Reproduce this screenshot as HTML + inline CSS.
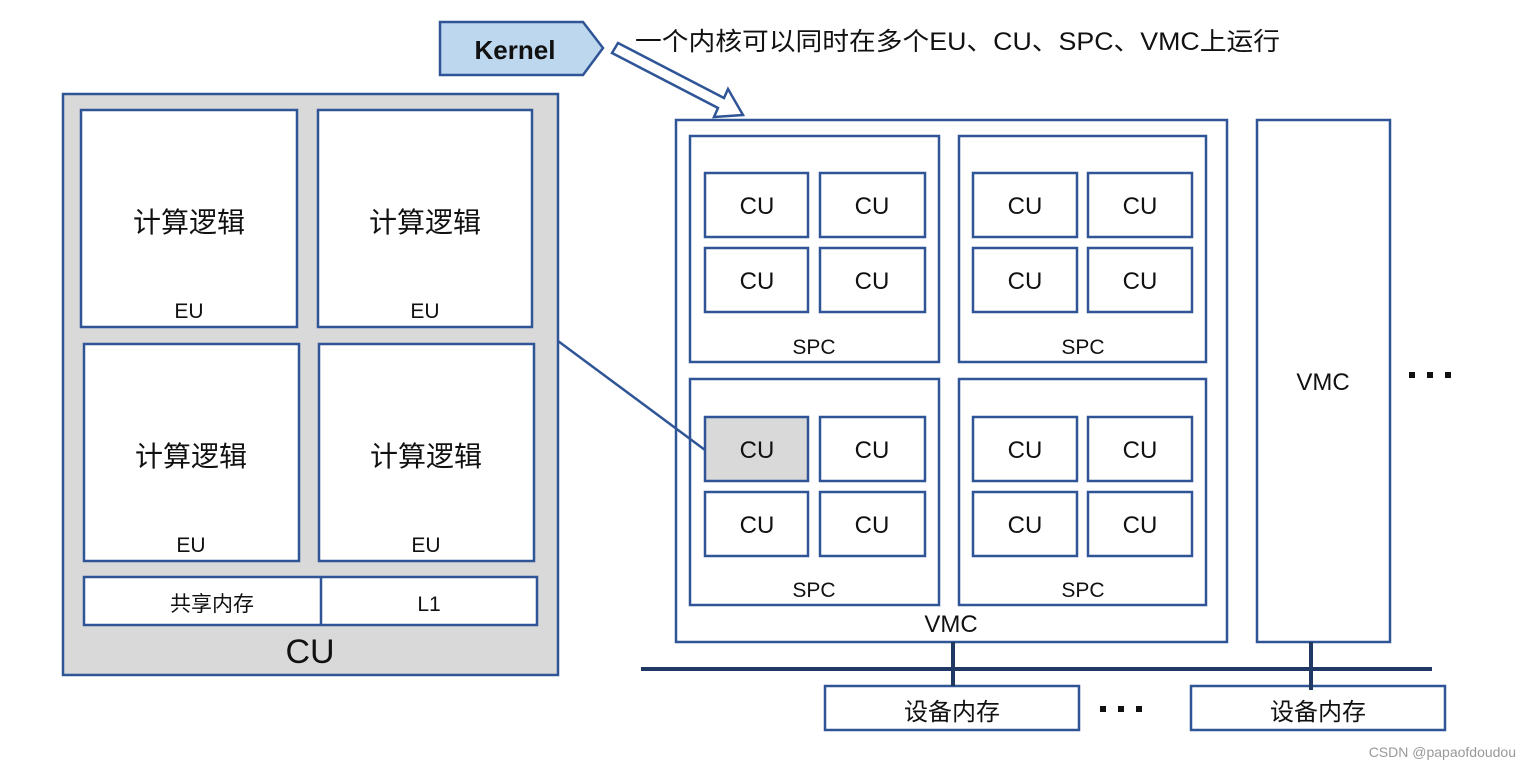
<!DOCTYPE html>
<html><head><meta charset="utf-8"><style>
html,body{margin:0;padding:0;background:#fff;}
svg{display:block}
text{font-family:"Liberation Sans","Noto Sans CJK SC",sans-serif;fill:#111;}
</style></head><body>
<svg width="1530" height="771" viewBox="0 0 1530 771" xmlns="http://www.w3.org/2000/svg">
<g stroke="#2f5597" stroke-width="2.5" fill="#fff">
<rect x="63" y="94" width="495" height="581" fill="#d9d9d9"/>
<rect x="81" y="110" width="216" height="217"/>
<rect x="318" y="110" width="214" height="217"/>
<rect x="84" y="344" width="215" height="217"/>
<rect x="319" y="344" width="215" height="217"/>
<rect x="84" y="577" width="453" height="48"/>
<line x1="321" y1="577" x2="321" y2="625"/>
<rect x="676" y="120" width="551" height="522"/>
<rect x="690" y="136" width="249" height="226"/>
<rect x="959" y="136" width="247" height="226"/>
<rect x="690" y="379" width="249" height="226"/>
<rect x="959" y="379" width="247" height="226"/>
<rect x="705" y="173" width="103" height="64"/>
<rect x="820" y="173" width="105" height="64"/>
<rect x="705" y="248" width="103" height="64"/>
<rect x="820" y="248" width="105" height="64"/>
<rect x="973" y="173" width="104" height="64"/>
<rect x="1088" y="173" width="104" height="64"/>
<rect x="973" y="248" width="104" height="64"/>
<rect x="1088" y="248" width="104" height="64"/>
<rect x="705" y="417" width="103" height="64" fill="#d9d9d9"/>
<rect x="820" y="417" width="105" height="64"/>
<rect x="705" y="492" width="103" height="64"/>
<rect x="820" y="492" width="105" height="64"/>
<rect x="973" y="417" width="104" height="64"/>
<rect x="1088" y="417" width="104" height="64"/>
<rect x="973" y="492" width="104" height="64"/>
<rect x="1088" y="492" width="104" height="64"/>
<rect x="1257" y="120" width="133" height="522"/>
<rect x="825" y="686" width="254" height="44"/>
<rect x="1191" y="686" width="254" height="44"/>
<polygon points="440,22 583,22 603,48 583,75 440,75" fill="#bdd7ee"/>
<polygon points="618,43 724,98 728,89 743,115 714,117 718,108 612,53"/>
<line x1="558" y1="341" x2="705" y2="450" fill="none"/>
</g>
<g stroke="#1f3864" stroke-width="4">
<line x1="641" y1="669" x2="1432" y2="669"/>
<line x1="953" y1="642" x2="953" y2="686"/>
<line x1="1311" y1="642" x2="1311" y2="690"/>
</g>
<g font-size="28" text-anchor="middle">
<text x="189" y="232">计算逻辑</text>
<text x="425" y="232">计算逻辑</text>
<text x="191" y="466">计算逻辑</text>
<text x="426" y="466">计算逻辑</text>
</g>
<g font-size="21" text-anchor="middle">
<text x="189" y="318">EU</text>
<text x="425" y="318">EU</text>
<text x="191" y="552">EU</text>
<text x="426" y="552">EU</text>
<text x="212" y="611">共享内存</text>
<text x="429" y="611">L1</text>
<text x="814" y="354">SPC</text>
<text x="1083" y="354">SPC</text>
<text x="814" y="597">SPC</text>
<text x="1083" y="597">SPC</text>
</g>
<text x="310" y="663" font-size="34" text-anchor="middle">CU</text>
<g font-size="24" text-anchor="middle">
<text x="757" y="214">CU</text><text x="872" y="214">CU</text>
<text x="757" y="289">CU</text><text x="872" y="289">CU</text>
<text x="1025" y="214">CU</text><text x="1140" y="214">CU</text>
<text x="1025" y="289">CU</text><text x="1140" y="289">CU</text>
<text x="757" y="458">CU</text><text x="872" y="458">CU</text>
<text x="757" y="533">CU</text><text x="872" y="533">CU</text>
<text x="1025" y="458">CU</text><text x="1140" y="458">CU</text>
<text x="1025" y="533">CU</text><text x="1140" y="533">CU</text>
<text x="951" y="632">VMC</text>
<text x="1323" y="390">VMC</text>
<text x="952" y="720">设备内存</text>
<text x="1318" y="720">设备内存</text>
</g>
<text x="515" y="59" font-size="26" font-weight="bold" text-anchor="middle">Kernel</text>
<text x="635" y="50" font-size="25" textLength="645" lengthAdjust="spacingAndGlyphs" fill="#222">一个内核可以同时在多个EU、CU、SPC、VMC上运行</text>
<g fill="#111">
<rect x="1409" y="372" width="6" height="6"/><rect x="1427" y="372" width="6" height="6"/><rect x="1445" y="372" width="6" height="6"/>
<rect x="1100" y="706" width="6" height="6"/><rect x="1118" y="706" width="6" height="6"/><rect x="1136" y="706" width="6" height="6"/>
</g>
<text x="1516" y="757" font-size="14" text-anchor="end" style="fill:#999">CSDN @papaofdoudou</text>
</svg>
</body></html>
